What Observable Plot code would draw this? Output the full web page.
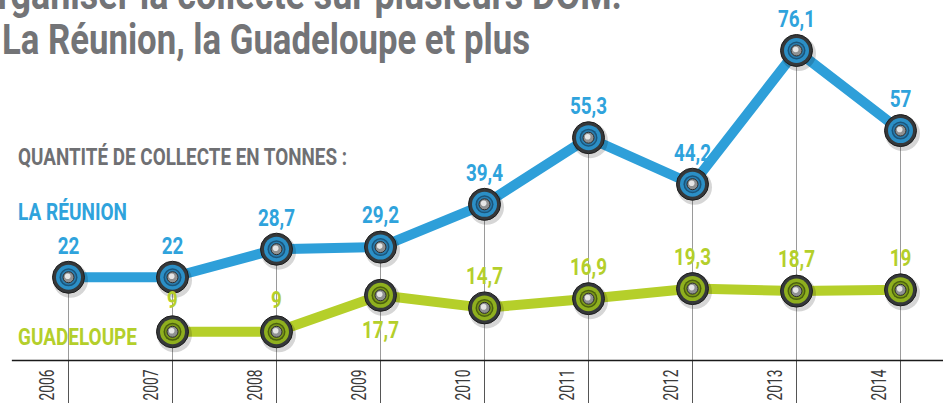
<!DOCTYPE html>
<html><head><meta charset="utf-8">
<script src="https://cdn.jsdelivr.net/npm/d3@7"></script>
<script src="https://cdn.jsdelivr.net/npm/@observablehq/plot@0.6"></script>
<style>
body{margin:0;background:#fff;overflow:hidden}
#wrap{position:relative;width:943px;height:403px;overflow:hidden}
#chart svg{display:block}
.t{position:absolute;white-space:nowrap;line-height:1;font-family:Roboto,'Liberation Sans',sans-serif;font-weight:bold;transform-origin:0 0}
</style></head><body>
<div id="wrap">
<div id="chart"></div>
<div class="t" data-w="649" style="left:-27px;top:-26px;font-size:42px;color:#737477">Organiser la collecte sur plusieurs DOM.</div>
<div class="t" data-w="528" style="left:2px;top:19px;font-size:42px;color:#737477">La Réunion, la Guadeloupe et plus</div>
<div class="t" data-w="329" style="left:18px;top:146px;font-size:23px;color:#6f7073">QUANTITÉ DE COLLECTE EN TONNES :</div>
<div class="t" data-w="109" style="left:18px;top:201px;font-size:23px;color:#2fa3dc">LA RÉUNION</div>
<div class="t" data-w="119" style="left:18px;top:326px;font-size:23px;color:#b4cf2b">GUADELOUPE</div>
</div>
<script>
const years = [2006, 2007, 2008, 2009, 2010, 2011, 2012, 2013, 2014];
const reunionValues = [22, 22, 28.7, 29.2, 39.4, 55.3, 44.2, 76.1, 57];
const guadeloupeYears = [2007, 2008, 2009, 2010, 2011, 2012, 2013, 2014];
const guadeloupeValues = [9, 9, 17.7, 14.7, 16.9, 19.3, 18.7, 19];
const guadeloupeLabelSide = ["above", "above", "below", "above", "above", "above", "above", "above"];

const fmt = v => String(v).replace(".", ",");
const reunion = years.map((year, i) => ({year, value: reunionValues[i], label: fmt(reunionValues[i])}));
const guadeloupe = guadeloupeYears.map((year, i) => ({year, value: guadeloupeValues[i], label: fmt(guadeloupeValues[i]), side: guadeloupeLabelSide[i]}));

const font = "Roboto,'Liberation Sans',sans-serif";
const BLUE = "#2e9fd9", GREEN = "#b5cf2a";

function markers(data, ring, dark, inner) {
  return [
    Plot.dot(data, {x: "year", y: "value", r: 17.5, fill: "#000", fillOpacity: 0.16, dx: 2, dy: 3}),
    Plot.dot(data, {x: "year", y: "value", r: 16, fill: "#35383a", stroke: "#1c1c1c", strokeWidth: 1}),
    Plot.dot(data, {x: "year", y: "value", r: 12.5, fill: ring}),
    Plot.dot(data, {x: "year", y: "value", r: 9, fill: dark}),
    Plot.dot(data, {x: "year", y: "value", r: 7.5, fill: inner}),
    Plot.dot(data, {x: "year", y: "value", r: 5.5, fill: "#8f9192", stroke: "#2b2b2b", strokeWidth: 1}),
    Plot.dot(data, {x: "year", y: "value", r: 2.8, fill: "#e6e6e6", dx: -0.8, dy: -1})
  ];
}

const chart = Plot.plot({
  width: 943,
  height: 403,
  marginLeft: 12,
  marginRight: 0,
  marginTop: 0,
  marginBottom: 43,
  x: {type: "point", domain: years, range: [66, 902], padding: 0, axis: null},
  y: {domain: [0, 76.1], range: [369, 50], axis: null},
  marks: [
    Plot.ruleX(reunion, {x: "year", y1: "value", y2: 0, stroke: "#9a9a9a", strokeWidth: 1}),
    Plot.axisX({anchor: "bottom", tickSize: 43, tickFormat: () => "", label: null, stroke: "#555"}),
    Plot.frame({anchor: "bottom", stroke: "#1a1a1a", strokeWidth: 1.3}),
    Plot.line(reunion, {x: "year", y: "value", stroke: BLUE, strokeWidth: 10}),
    Plot.line(guadeloupe, {x: "year", y: "value", stroke: GREEN, strokeWidth: 10}),
    ...markers(reunion, "#2b8fc6", "#1b557a", "#2a7fb2"),
    ...markers(guadeloupe, "#8fb01e", "#4a5f10", "#7c9a18"),
    Plot.text(reunion, {x: "year", y: "value", text: "label", dy: -31, fill: "#2fa3dc", fontSize: 23, fontWeight: "bold", fontFamily: font}),
    Plot.text(guadeloupe.filter(d => d.side === "above"), {x: "year", y: "value", text: "label", dy: -31, fill: "#b4cf2b", fontSize: 23, fontWeight: "bold", fontFamily: font}),
    Plot.text(guadeloupe.filter(d => d.side === "below"), {x: "year", y: "value", text: "label", dy: 35, fill: "#b4cf2b", fontSize: 23, fontWeight: "bold", fontFamily: font}),
    Plot.text(years, {x: d => d, frameAnchor: "bottom", rotate: -90, textAnchor: "end", dy: 9, dx: -15, text: d => String(d), fill: "#3a3a3a", fontSize: 21, fontFamily: font})
  ]
});
document.getElementById("chart").appendChild(chart);

// condense text glyphs to mimic the condensed typeface of the original
chart.querySelectorAll("text").forEach(t => {
  const s = t.textContent;
  if (!s) return;
  const len = t.getComputedTextLength();
  if (/^\d{4}$/.test(s)) { t.setAttribute("textLength", 31); }
  else { t.setAttribute("textLength", (len * 0.82).toFixed(1)); }
  t.setAttribute("lengthAdjust", "spacingAndGlyphs");
});

document.querySelectorAll(".t").forEach(el => {
  const w = el.getBoundingClientRect().width;
  const target = +el.dataset.w;
  if (w > 0) el.style.transform = `scaleX(${target / w})`;
});
</script>
</body></html>
